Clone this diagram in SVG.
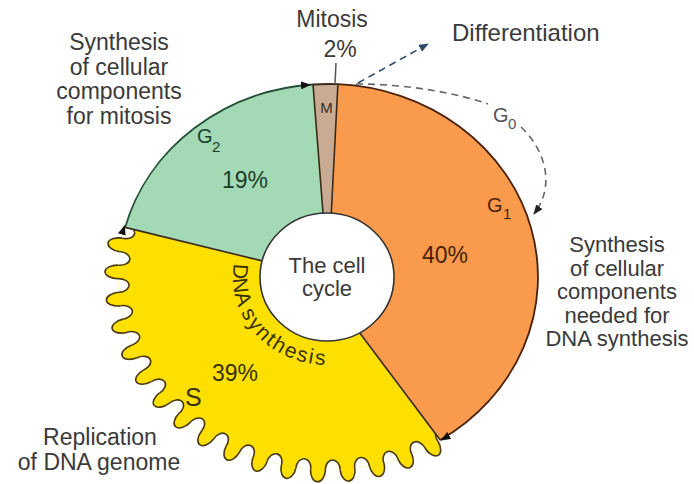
<svg xmlns="http://www.w3.org/2000/svg" width="694" height="484" viewBox="0 0 694 484">
<style>
text{font-family:"Liberation Sans",Arial,sans-serif}
.out{font-size:23px;fill:#3a3a3a;text-anchor:middle}
.outr{font-size:22px;fill:#3a3a3a;text-anchor:middle}
.lobe{fill:#fde000;stroke:#4a3a12;stroke-width:1.6;vector-effect:non-scaling-stroke}
.notch{fill:#ffffff;stroke:#4a3a12;stroke-width:1.6;vector-effect:non-scaling-stroke}
.div{stroke:#3a2a1a;stroke-width:1.6;fill:none}
.dash{fill:none;stroke-width:1.6;stroke-dasharray:7 5}
.g2t{fill:#1c3d2a}
.g1t{fill:#4a2208}
.st{fill:#3a3000}
</style>
<defs>
<ellipse id="lobe" class="lobe" cx="193" cy="0" rx="12" ry="6.85"/>
<ellipse id="notch" class="notch" cx="193" cy="0" rx="10" ry="6.85"/>
<clipPath id="sclip"><path d="M0 0 L103.1 163.1 A193 193 0 0 1 -186.5 -49.6 Z"/></clipPath>
<marker id="ah" viewBox="0 0 10 8" refX="9" refY="4" markerWidth="10" markerHeight="8" orient="auto" markerUnits="userSpaceOnUse"><path d="M0 0 L10 4 L0 8 Z" fill="#111"/></marker>
<marker id="ahb" viewBox="0 0 10 8" refX="9" refY="4" markerWidth="10" markerHeight="8" orient="auto" markerUnits="userSpaceOnUse"><path d="M0 0 L10 4 L0 8 Z" fill="#2d4b6a"/></marker>
<marker id="ahg" viewBox="0 0 10 8" refX="9" refY="4" markerWidth="10" markerHeight="8" orient="auto" markerUnits="userSpaceOnUse"><path d="M0 0 L10 4 L0 8 Z" fill="#222"/></marker>
<path id="dnap" d="M 234.4 261.7 A 95 88 0 0 0 336.3 364.7"/>
</defs>

<g id="phase-s">
<g transform="translate(328 277) scale(1.0881 1)">
<use href="#lobe" transform="rotate(189.57)"/>
<use href="#lobe" transform="rotate(181.50)"/>
<use href="#lobe" transform="rotate(173.43)"/>
<use href="#lobe" transform="rotate(165.36)"/>
<use href="#lobe" transform="rotate(157.29)"/>
<use href="#lobe" transform="rotate(149.22)"/>
<use href="#lobe" transform="rotate(141.15)"/>
<use href="#lobe" transform="rotate(133.08)"/>
<use href="#lobe" transform="rotate(125.01)"/>
<use href="#lobe" transform="rotate(116.94)"/>
<use href="#lobe" transform="rotate(108.87)"/>
<use href="#lobe" transform="rotate(100.80)"/>
<use href="#lobe" transform="rotate(92.73)"/>
<use href="#lobe" transform="rotate(84.66)"/>
<use href="#lobe" transform="rotate(76.59)"/>
<use href="#lobe" transform="rotate(68.52)"/>
<use href="#lobe" transform="rotate(60.45)"/>
</g>
<path d="M 320 280 L 440.2 440.1 A 210 193 0 0 1 125.1 227.4 L 328 277 Z" fill="#fde000"/>
<g transform="translate(328 277) scale(1.0881 1)">
<g clip-path="url(#sclip)">
<use href="#notch" transform="rotate(193.61)"/>
<use href="#notch" transform="rotate(185.54)"/>
<use href="#notch" transform="rotate(177.47)"/>
<use href="#notch" transform="rotate(169.40)"/>
<use href="#notch" transform="rotate(161.33)"/>
<use href="#notch" transform="rotate(153.26)"/>
<use href="#notch" transform="rotate(145.19)"/>
<use href="#notch" transform="rotate(137.12)"/>
<use href="#notch" transform="rotate(129.05)"/>
<use href="#notch" transform="rotate(120.98)"/>
<use href="#notch" transform="rotate(112.91)"/>
<use href="#notch" transform="rotate(104.84)"/>
<use href="#notch" transform="rotate(96.77)"/>
<use href="#notch" transform="rotate(88.70)"/>
<use href="#notch" transform="rotate(80.63)"/>
<use href="#notch" transform="rotate(72.56)"/>
<use href="#notch" transform="rotate(64.49)"/>
<use href="#notch" transform="rotate(56.42)"/>
</g>
</g>
<text class="st" x="235" y="381" font-size="23" text-anchor="middle">39%</text>
<text class="st" x="185" y="406" font-size="25">S</text>
<text class="st" font-size="21"><textPath href="#dnap" startOffset="2">DNA</textPath></text>
<text class="st" font-size="21"><textPath href="#dnap" startOffset="52" textLength="104" lengthAdjust="spacing">synthesis</textPath></text>
</g>

<g id="phase-g2">
<path d="M 328 277 L 125.1 227.4 A 210 193 0 0 1 313 84.5 Z" fill="#a3d9b5"/>
<path d="M 125.1 227.4 A 210 193 0 0 1 313 84.5" fill="none" stroke="#24503a" stroke-width="1.8"/>
<text class="g2t" x="197" y="143" font-size="20">G</text>
<text class="g2t" x="212" y="152" font-size="15">2</text>
<text class="g2t" x="245" y="188" font-size="23" text-anchor="middle">19%</text>
</g>

<g id="phase-m">
<path d="M 328 277 L 313 84.5 A 210 193 0 0 1 337.9 84.2 Z" fill="#c9ab93"/>
<path d="M 313 84.5 A 210 193 0 0 1 337.9 84.2" fill="none" stroke="#3a2a1a" stroke-width="1.8"/>
<text x="326.5" y="113" font-size="15" fill="#3a2a1a" text-anchor="middle">M</text>
</g>

<g id="phase-g1">
<path d="M 328 277 L 337.9 84.2 A 210 193 0 0 1 440.2 440.1 L 320 280 Z" fill="#fa9a4c"/>
<path d="M 337.9 84.2 A 210 193 0 0 1 440.2 440.1" fill="none" stroke="#4a220a" stroke-width="1.8"/>
<text class="g1t" x="487" y="212" font-size="20">G</text>
<text class="g1t" x="503" y="219" font-size="15">1</text>
<text class="g1t" x="445" y="263" font-size="23" text-anchor="middle">40%</text>
</g>

<g id="dividers">
<path class="div" d="M 125.1 227.4 L 328 277"/>
<path class="div" d="M 313 84.5 L 328 277"/>
<path class="div" d="M 337.9 84.2 L 328 277"/>
<path class="div" d="M 440.2 440.1 L 320 280"/>
</g>

<g id="center">
<ellipse cx="327" cy="277" rx="67" ry="64" fill="#ffffff" stroke="#333" stroke-width="1.6"/>
<text x="327" y="273" font-size="22" fill="#3a3a3a" text-anchor="middle">The cell</text>
<text x="327" y="296" font-size="22" fill="#3a3a3a" text-anchor="middle">cycle</text>
</g>

<g id="connectors">
<path d="M 120 240 L 124.5 226" stroke="none" marker-end="url(#ah)"/>
<path d="M 300 85.5 L 310 84.8" stroke="none" marker-end="url(#ah)"/>
<path d="M 449 435.6 L 441.5 440" stroke="none" marker-end="url(#ah)"/>
<path d="M 336 63 L 335 84" stroke="#555" stroke-width="1.5" fill="none"/>
<path class="dash" d="M 358 83 L 428 44" stroke="#2d4b6a" marker-end="url(#ahb)"/>
<path class="dash" d="M 356 84 C 410 84 460 94 488 104" stroke="#666"/>
<path class="dash" d="M 521 127 C 545 150 556 185 534 214" stroke="#666" marker-end="url(#ahg)"/>
</g>

<g id="labels">
<text class="out" x="332" y="27" font-size="24">Mitosis</text>
<text class="out" x="340" y="57" font-size="24">2%</text>
<text x="452" y="41" font-size="24" fill="#3a3a3a">Differentiation</text>
<text x="493" y="122" font-size="20" fill="#555">G</text>
<text x="508" y="129" font-size="15" fill="#555">0</text>
<text class="out" x="119" y="50">Synthesis</text>
<text class="out" x="119" y="74.5">of cellular</text>
<text class="out" x="119" y="99">components</text>
<text class="out" x="119" y="123.5">for mitosis</text>
<text class="outr" x="617" y="252">Synthesis</text>
<text class="outr" x="617" y="275.5">of cellular</text>
<text class="outr" x="617" y="299">components</text>
<text class="outr" x="617" y="322.5">needed for</text>
<text class="outr" x="617" y="346">DNA synthesis</text>
<text class="out" x="100" y="445">Replication</text>
<text class="out" x="99" y="470">of DNA genome</text>
</g>
</svg>
